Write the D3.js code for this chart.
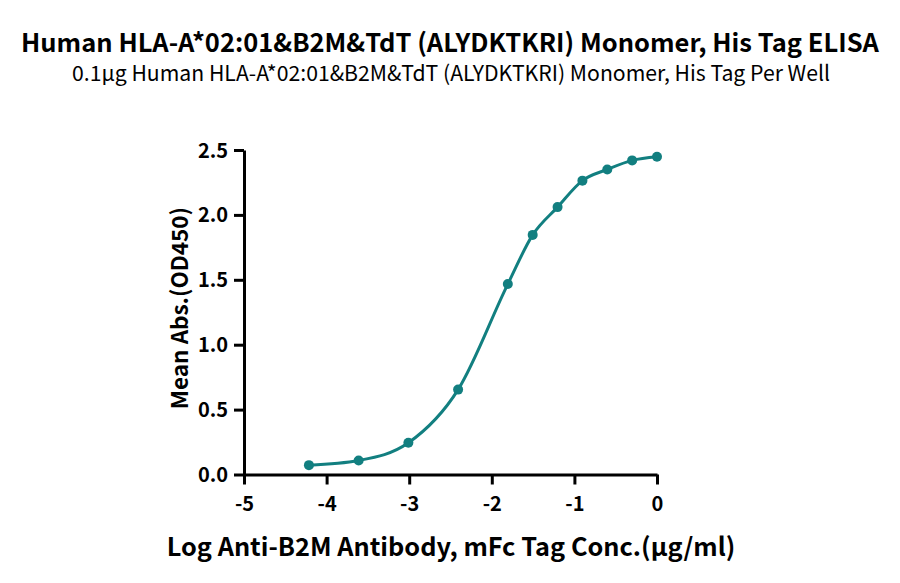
<!DOCTYPE html>
<html><head><meta charset="utf-8">
<script src="https://cdn.jsdelivr.net/npm/d3@7"></script>
<style>
body{margin:0;background:#fff;}
text{font-family:"Noto Sans CJK SC","Noto Sans",sans-serif;}
</style></head>
<body><svg id="c" width="900" height="583"></svg>
<script>
const logConc = [-4.214, -3.612, -3.010, -2.408, -1.806, -1.505, -1.204, -0.903, -0.602, -0.301, 0];
const od450 = [0.072, 0.108, 0.244, 0.654, 1.467, 1.846, 2.060, 2.264, 2.350, 2.420, 2.448];
const xTicks = [-5, -4, -3, -2, -1, 0];
const yTicks = [0, 0.5, 1.0, 1.5, 2.0, 2.5];
const title = "Human HLA-A*02:01&B2M&TdT (ALYDKTKRI) Monomer, His Tag ELISA";
const subtitle = "0.1µg Human HLA-A*02:01&B2M&TdT (ALYDKTKRI) Monomer, His Tag Per Well";
const xLabel = "Log Anti-B2M Antibody, mFc Tag Conc.(µg/ml)";
const yLabel = "Mean Abs.(OD450)";
const color = "#127f80";
const FF = '"Noto Sans CJK SC","Noto Sans",sans-serif';

const svg = d3.select("#c");
const x = d3.scaleLinear().domain([-5, 0]).range([244, 657]);
const y = d3.scaleLinear().domain([0, 2.5]).range([474.5, 150]);

svg.append("text").attr("x", 450).attr("y", 52).attr("text-anchor", "middle")
  .attr("font-size", 25.5).attr("font-weight", 700).text(title);
svg.append("text").attr("x", 451).attr("y", 81).attr("text-anchor", "middle")
  .attr("font-size", 21.2).attr("font-weight", 400).text(subtitle);

const fmtX = d => String(d);
const xa = svg.append("g").attr("transform", `translate(0,${y(0)})`)
  .call(d3.axisBottom(x).tickValues(xTicks).tickFormat(fmtX).tickSize(10).tickSizeOuter(0));
const ya = svg.append("g").attr("transform", `translate(${x(-5)},0)`)
  .call(d3.axisLeft(y).tickValues(yTicks).tickFormat(d3.format(".1f")).tickSize(10).tickSizeOuter(0));
[xa, ya].forEach(g => {
  g.select(".domain").attr("stroke", "#000").attr("stroke-width", 3);
  g.selectAll(".tick line").attr("stroke", "#000").attr("stroke-width", 3);
  g.selectAll(".tick text").attr("fill", "#000").attr("font-size", 20).attr("font-weight", 700)
    .style("font-family", FF);
});
xa.selectAll(".tick text").attr("y", 36).attr("dy", 0);
ya.selectAll(".tick text").attr("x", -16).attr("dy", "0.35em");

const data = logConc.map((c, i) => ({c, v: od450[i]}));
svg.append("path").datum(data)
  .attr("fill", "none").attr("stroke", color).attr("stroke-width", 3)
  .attr("d", d3.line().x(d => x(d.c)).y(d => y(d.v)).curve(d3.curveMonotoneX));
svg.selectAll("circle.pt").data(data).join("circle").attr("class", "pt")
  .attr("cx", d => x(d.c)).attr("cy", d => y(d.v)).attr("r", 5).attr("fill", color);

svg.append("text").attr("x", 451).attr("y", 556).attr("text-anchor", "middle")
  .attr("font-size", 25.3).attr("font-weight", 700).text(xLabel);
svg.append("text").attr("transform", `translate(188,308) rotate(-90)`)
  .attr("text-anchor", "middle").attr("font-size", 22.5).attr("font-weight", 700).text(yLabel);
</script></body></html>
